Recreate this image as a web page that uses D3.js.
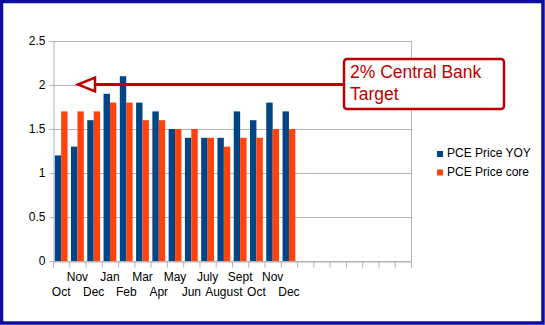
<!DOCTYPE html>
<html>
<head>
<meta charset="utf-8">
<script src="https://cdn.jsdelivr.net/npm/d3@7"></script>
<style>
  html, body { margin: 0; padding: 0; background: #fff; }
  svg { display: block; font-family: "Liberation Sans", Arial, sans-serif; }
</style>
</head>
<body>
<svg id="chart" width="545" height="325"></svg>
<script>
// Monthly categories (Oct through the following Dec)
const months = ["Oct", "Nov", "Dec", "Jan", "Feb", "Mar", "Apr", "May", "Jun",
                "July", "August", "Sept", "Oct", "Nov", "Dec"];
// Total category slots on the axis (remaining slots are left empty)
const slotCount = 22;
// PCE price index, year over year (%)
const pceYoy  = [1.2, 1.3, 1.6, 1.9, 2.1, 1.8, 1.7, 1.5, 1.4, 1.4, 1.4, 1.7, 1.6, 1.8, 1.7];
// Core PCE price index (%)
const pceCore = [1.7, 1.7, 1.7, 1.8, 1.8, 1.6, 1.6, 1.5, 1.5, 1.4, 1.3, 1.4, 1.4, 1.5, 1.5];
// Y-axis ticks
const yTicks = [0, 0.5, 1, 1.5, 2, 2.5];
// Series names and colours
const seriesNames = ["PCE Price YOY", "PCE Price core"];
const seriesColors = ["#004586", "#ff420e"];
// Target level and annotation text
const targetValue = 2;
const annotationLines = ["2% Central Bank", "Target"];

const svg = d3.select("#chart");
const W = 545, H = 325;
const plot = { left: 53, right: 411, top: 41, bottom: 261 };

// Outer frame
svg.append("rect")
  .attr("x", 1.5).attr("y", 1.5)
  .attr("width", W - 3.5).attr("height", H - 3.5)
  .attr("fill", "#fff")
  .attr("stroke", "#0c0c9e").attr("stroke-width", 3.5);

const y = d3.scaleLinear().domain([0, 2.5]).range([plot.bottom, plot.top]);
const xSlot = d3.scaleLinear().domain([0, slotCount]).range([plot.left, plot.right]);
const xBand = d3.scaleBand().domain(d3.range(slotCount)).range([plot.left, plot.right]).paddingInner(0).paddingOuter(0);
const xSeries = d3.scaleBand().domain([0, 1]).range([0, xBand.bandwidth()]).paddingOuter(0.27).paddingInner(0);

// Horizontal gridlines
svg.append("g").selectAll("line").data(yTicks).join("line")
  .attr("x1", plot.left).attr("x2", plot.right)
  .attr("y1", d => Math.round(y(d)) + 0.5).attr("y2", d => Math.round(y(d)) + 0.5)
  .attr("stroke", "#b3b3b3").attr("stroke-width", 1);

// Right plot border
svg.append("line")
  .attr("x1", plot.right + 0.5).attr("x2", plot.right + 0.5)
  .attr("y1", plot.top).attr("y2", plot.bottom)
  .attr("stroke", "#b3b3b3");

// Bars
const series = [pceYoy, pceCore];
series.forEach((vals, si) => {
  svg.append("g").selectAll("rect").data(vals).join("rect")
    .attr("x", (d, i) => xBand(i) + xSeries(si))
    .attr("width", xSeries.bandwidth())
    .attr("y", d => y(d))
    .attr("height", d => y(0) - y(d))
    .attr("fill", seriesColors[si]);
});

// Y axis
const yAxis = svg.append("g")
  .attr("transform", `translate(${plot.left + 0.5},0)`)
  .call(d3.axisLeft(y).tickValues(yTicks).tickSize(4).tickPadding(4).tickFormat(d => String(d)));
yAxis.select(".domain").attr("stroke", "#b3b3b3");
yAxis.selectAll(".tick line").attr("stroke", "#b3b3b3");
yAxis.selectAll("text").attr("font-size", 12).attr("fill", "#000")
  .attr("font-family", "Liberation Sans, Arial, sans-serif");

// X axis with ticks at category boundaries
const xAxis = svg.append("g")
  .attr("transform", `translate(0,${plot.bottom + 0.5})`)
  .call(d3.axisBottom(xSlot).tickValues(d3.range(slotCount + 1)).tickSize(6).tickFormat(""));
xAxis.select(".domain").attr("stroke", "#b3b3b3");
xAxis.selectAll(".tick line").attr("stroke", "#b3b3b3");

// Category labels, staggered on two rows
svg.append("g").selectAll("text").data(months).join("text")
  .attr("x", (d, i) => xBand(i) + xBand.bandwidth() / 2)
  .attr("y", (d, i) => i % 2 === 1 ? 281 : 296)
  .attr("text-anchor", "middle")
  .attr("font-size", 12)
  .attr("fill", "#000")
  .text(d => d);

// Legend
const legend = svg.append("g");
seriesNames.forEach((name, i) => {
  legend.append("rect")
    .attr("x", 437).attr("y", 151 + i * 18.5)
    .attr("width", 6).attr("height", 6)
    .attr("fill", seriesColors[i]);
  legend.append("text")
    .attr("x", 447).attr("y", 157 + i * 18.5)
    .attr("font-size", 12).attr("fill", "#000")
    .text(name);
});

// Target arrow and callout
const red = "#c00000";
const ty = y(targetValue) - 0.5;
const box = { x: 344, y: 59, w: 160, h: 50 };
svg.append("line")
  .attr("x1", 95).attr("x2", box.x)
  .attr("y1", ty).attr("y2", ty)
  .attr("stroke", red).attr("stroke-width", 3);
svg.append("path")
  .attr("d", `M78,${ty} L95,${ty - 7} L95,${ty + 7} Z`)
  .attr("fill", "#fff").attr("stroke", red).attr("stroke-width", 2.5)
  .attr("stroke-linejoin", "miter");
svg.append("rect")
  .attr("x", box.x).attr("y", box.y).attr("width", box.w).attr("height", box.h)
  .attr("rx", 3).attr("ry", 3)
  .attr("fill", "#fff").attr("stroke", red).attr("stroke-width", 2.5);
svg.append("g").selectAll("text").data(annotationLines).join("text")
  .attr("x", 350).attr("y", (d, i) => 78 + i * 22)
  .attr("font-size", 17.5).attr("fill", red)
  .text(d => d);
</script>
</body>
</html>
